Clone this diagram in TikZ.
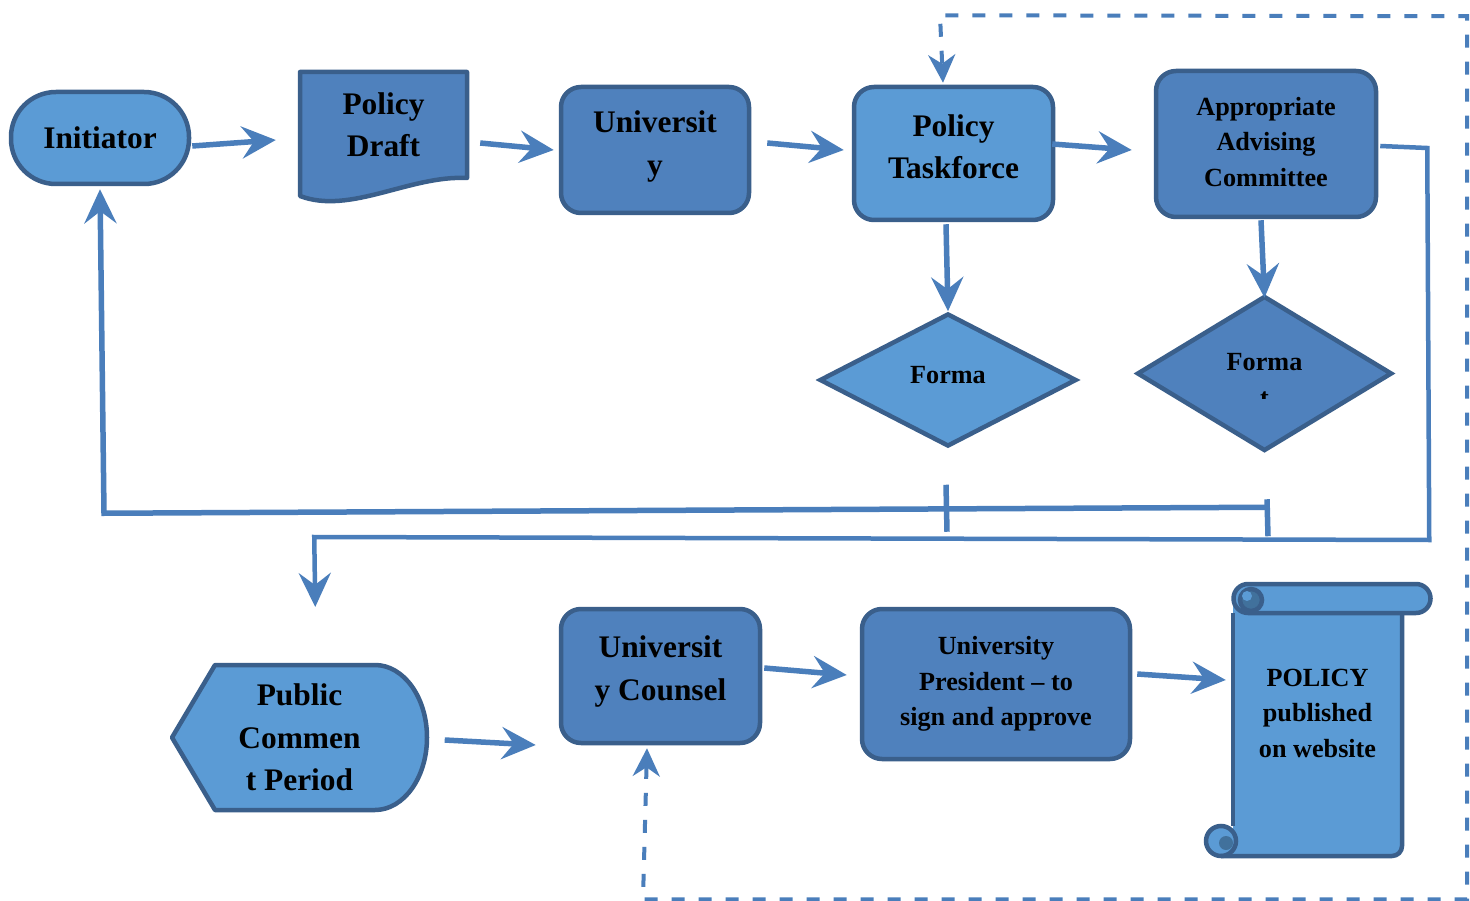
\documentclass[tikz,border=0pt]{standalone}
\usepackage{fontspec}
\setmainfont{Liberation Serif}
\usetikzlibrary{shapes.geometric,arrows.meta,calc}
\definecolor{lightb}{HTML}{5B9BD5}
\definecolor{darkb}{HTML}{4F81BD}
\definecolor{edgeb}{HTML}{3A5F8B}
\definecolor{linkb}{HTML}{4A7EBB}
\definecolor{curlb}{HTML}{41719C}
\begin{document}
\begin{tikzpicture}[x=1pt,y=-1pt,
  bigtxt/.style={font=\bfseries\fontsize{31.4}{42.5}\selectfont, align=center, text=black},
  smalltxt/.style={font=\bfseries\fontsize{26.2}{35.5}\selectfont, align=center, text=black},
  boxline/.style={draw=edgeb, line width=4.5pt},
  roundbox/.style={boxline, rounded corners=20pt, inner sep=0pt},
  plainbox/.style={inner sep=0pt},
  linkline/.style={draw=linkb, line width=5.5pt},
  link/.style={linkline, arrows={-Stealth[length=34pt,width=32pt,inset=12pt]}},
  dashlink/.style={draw=linkb, line width=4pt, dash pattern=on 13pt off 14pt,
    arrows={Stealth[length=28pt,width=27pt,inset=9pt]-Stealth[length=28pt,width=27pt,inset=9pt]}}
]
\path[use as bounding box, fill=white] (0,0) rectangle (1470,901);

% Initiator
\node[roundbox, rounded corners=45pt, fill=lightb, minimum width=178pt, minimum height=92pt, bigtxt] (init) at (100,138) {Initiator};

% Policy Draft (document shape)
\draw[boxline, fill=darkb, line join=round] (300,196) -- (300,72) -- (467,72) -- (467,178)
  .. controls (410,175) and (350,215) .. (300,196) -- cycle;
\node[plainbox, minimum width=167pt, minimum height=106pt, bigtxt] (draft) at (383.5,125) {Policy\\Draft};

% University
\node[roundbox, fill=darkb, minimum width=188pt, minimum height=126pt] (uni) at (655,150) {};
\node[bigtxt] (uniT) at (655,146.5) {Universit\\y};

% Policy Taskforce
\node[roundbox, fill=lightb, minimum width=199pt, minimum height=133pt] (task) at (953.5,153.5) {};
\node[bigtxt] (taskT) at (953.5,147) {Policy\\Taskforce};

% Appropriate Advising Committee
\node[roundbox, fill=darkb, minimum width=220pt, minimum height=146pt] (adv) at (1266,144) {};
\node[smalltxt] (advT) at (1266,142) {Appropriate\\Advising\\Committee};

% Diamonds
\node[diamond, boxline, fill=lightb, minimum width=257pt, minimum height=133pt, inner sep=0pt] (d1) at (948,380) {};
\node[smalltxt] (d1T) at (948,375) {Forma};
\node[diamond, boxline, fill=darkb, minimum width=255pt, minimum height=155pt, inner sep=0pt] (d2) at (1264.5,373.5) {};
\node[smalltxt] (d2a) at (1264.5,362) {Forma};
\begin{scope}
  \clip (1240,389) rectangle (1290,398.5);
  \node[smalltxt, anchor=base] (d2b) at (1264.5,406) {t};
\end{scope}

% Public Comment Period (display shape)
\draw[boxline, fill=lightb, line join=round] (215,665) -- (375,665)
  arc[start angle=-90, end angle=90, x radius=52, y radius=72.5] -- (215,810) -- (172,737.5) -- cycle;
\node[plainbox, minimum width=255pt, minimum height=145pt, bigtxt] (pcp) at (299.5,737.5) {Public\\Commen\\t Period};

% University Counsel
\node[roundbox, fill=darkb, minimum width=199pt, minimum height=134pt] (cns) at (660.5,676) {};
\node[bigtxt] (cnsT) at (660.5,671.5) {Universit\\y Counsel};

% University President
\node[roundbox, fill=darkb, minimum width=268pt, minimum height=150pt, smalltxt] (pres) at (996,684) {University\\President – to\\sign and approve};

% Scroll
\fill[lightb] (1233,598) -- (1233,856) -- (1392,856) arc[start angle=90, end angle=0, radius=10] -- (1402,605) -- cycle;
\draw[boxline, fill=lightb] (1248,584) -- (1416,584) arc[start angle=-90, end angle=90, radius=14.5]
  -- (1248,613) arc[start angle=90, end angle=270, radius=14.5] -- cycle;
\draw[boxline, fill=curlb] (1251,600) circle[radius=11];
\fill[lightb] (1247,596) circle[radius=5];
\draw[boxline, fill=lightb] (1221,841) circle[radius=15];
\fill[curlb] (1226,843) circle[radius=7];
\draw[boxline] (1233,613) -- (1233,826);
\draw[boxline, line join=round] (1221,856) -- (1392,856) arc[start angle=90, end angle=0, radius=10] -- (1402,613);
\node[plainbox, minimum width=225pt, minimum height=256pt, smalltxt] (scroll) at (1317.5,713) {POLICY\\published\\on website};

% Connectors
\draw[link] ($(init.east)+(1,8)$) -- ($(draft.west)+(-24,15)$);
\draw[link] ($(draft.east)+(13,18)$) -- ($(uni.west)+(-5,0)$);
\draw[link] ($(uni.east)+(16,-7)$) -- ($(task.west)+(-8,-3.5)$);
\draw[link] ($(task.east)+(-3,-9.5)$) -- ($(adv.west)+(-22,6)$);
\draw[link] ($(task.south)+(-7.5,2)$) -- (d1.north);
\draw[link] ($(adv.south)+(-5,1)$) -- ($(d2.north)+(0,4)$);

\draw[linkline] ($(d1.south)+(-2,36)$) -- ($(d1.south)+(-1,83)$);
\draw[linkline] ($(d2.south)+(2.5,46)$) -- ($(d2.south)+(3.5,83)$);
\draw[link] ($(d2.south)+(2.5,54)$) -- ++(-1163,6) -- ($(init.south)+(0,3)$);
\draw[link, line width=4.5pt] ($(adv.east)+(2,2)$) -- ++(47,2) -- ++(2,392) -- ++(-1115,-3) -- ++(1,70);

\draw[link] ($(pcp.east)+(17.5,2.5)$) -- ($(cns.west)+(-23,69)$);
\draw[link] ($(cns.east)+(2,-8)$) -- ($(pres.west)+(-13,-9)$);
\draw[link] ($(pres.east)+(5,-10)$) -- ($(scroll.west)+(21,-33)$);

\draw[dashlink] ($(cns.south)+(-13.5,3)$) -- ++(-4,151) -- ++(824,0) -- ++(0,-883) -- ++(-527,-1) -- ($(task.north)+(-10.5,-2)$);
\end{tikzpicture}
\end{document}
